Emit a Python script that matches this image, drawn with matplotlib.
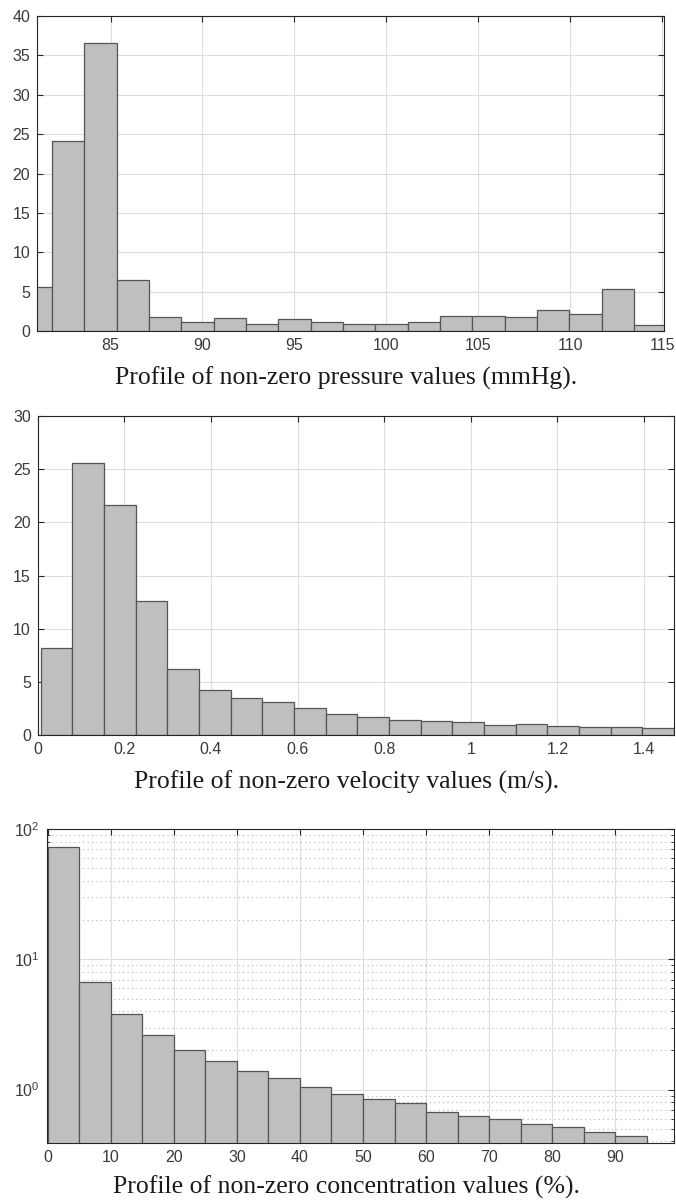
import matplotlib
matplotlib.use("Agg")
import matplotlib.pyplot as plt
import numpy as np
from matplotlib.ticker import LogLocator, NullFormatter

plt.rcParams['font.family'] = ['Liberation Sans', 'DejaVu Sans']
plt.rcParams['mathtext.fontset'] = 'custom'
plt.rcParams['mathtext.rm'] = 'Liberation Sans'
plt.rcParams['mathtext.it'] = 'Liberation Sans:italic'

# pressure histogram (mmHg), 20 bins
pressure_start = 80.06
pressure_width = 1.758
pressure_counts = [5.6, 24.1, 36.6, 6.5, 1.8, 1.1, 1.65, 0.9, 1.5, 1.1,
                   0.85, 0.85, 1.1, 1.95, 1.85, 1.75, 2.7, 2.1, 5.35, 0.8]
pressure_ticks = [85, 90, 95, 100, 105, 110, 115]

# velocity histogram (m/s), 20 bins
velocity_start = 0.007
velocity_width = 0.0731
velocity_counts = [8.2, 25.6, 21.6, 12.6, 6.25, 4.2, 3.45, 3.13, 2.5, 1.94,
                   1.69, 1.44, 1.32, 1.19, 0.95, 1.0, 0.82, 0.76, 0.72, 0.63]
velocity_ticks = [0, 0.2, 0.4, 0.6, 0.8, 1, 1.2, 1.4]
velocity_labels = ['0', '0.2', '0.4', '0.6', '0.8', '1', '1.2', '1.4']

# concentration histogram (%), 19 bins of 5
conc_start = 0
conc_width = 5
conc_counts = [73.6, 6.7, 3.83, 2.62, 2.01, 1.65, 1.38, 1.22, 1.05, 0.92,
               0.853, 0.79, 0.678, 0.628, 0.592, 0.548, 0.514, 0.473, 0.443]
conc_ticks = [0, 10, 20, 30, 40, 50, 60, 70, 80, 90]

captions = ['Profile of non-zero pressure values (mmHg).',
            'Profile of non-zero velocity values (m/s).',
            'Profile of non-zero concentration values (%).']

W, H = 676, 1202
fig = plt.figure(figsize=(W / 100, H / 100), dpi=100)

BAR = '#bfbfbf'
EDGE = '#555555'
AX = '#262626'


def make_axes(l, r, t, b):
    return fig.add_axes([l / W, 1 - b / H, (r - l) / W, (b - t) / H])


def style(ax):
    for s in ax.spines.values():
        s.set_color(AX)
        s.set_linewidth(0.8)
    ax.tick_params(direction='in', top=True, right=True, length=4,
                   width=0.8, color=AX, labelcolor='#3a3a3a', labelsize=11.5,
                   pad=5)
    ax.tick_params(which='minor', direction='in', right=True, length=2.5,
                   width=0.6, color=AX)
    ax.set_axisbelow(True)
    ax.grid(True, which='major', color='#dedede', linewidth=0.8)


def draw_hist(ax, start, width, counts):
    edges = start + width * np.arange(len(counts))
    ax.bar(edges, counts, width=width, align='edge', color=BAR,
           edgecolor=EDGE, linewidth=0.9)


# panel 1
ax1 = make_axes(37, 664, 16, 331)
style(ax1)
draw_hist(ax1, pressure_start, pressure_width, pressure_counts)
ax1.set_xlim(81, 115.1)
ax1.set_ylim(0, 40)
ax1.set_xticks(pressure_ticks)
ax1.set_yticks(range(0, 41, 5))

# panel 2
ax2 = make_axes(37.7, 674, 416, 735)
style(ax2)
draw_hist(ax2, velocity_start, velocity_width, velocity_counts)
ax2.set_xlim(0, 1.469)
ax2.set_ylim(0, 30)
ax2.set_xticks(velocity_ticks)
ax2.set_xticklabels(velocity_labels)
ax2.set_yticks(range(0, 31, 5))

# panel 3 (log)
ax3 = make_axes(46.7, 674, 829.3, 1143.3)
ax3.set_yscale('log')
style(ax3)
ax3.grid(True, which='minor', axis='y', color='#b5b5b5', linestyle=(0, (1, 3)),
         linewidth=0.8)
draw_hist(ax3, conc_start, conc_width, conc_counts)
ax3.set_xlim(-0.15, 99.3)
ax3.set_ylim(0.387, 100)
ax3.set_xticks(conc_ticks)
ax3.yaxis.set_major_locator(LogLocator(base=10, numticks=5))
ax3.yaxis.set_minor_locator(LogLocator(base=10, subs=np.arange(2, 10), numticks=20))
ax3.yaxis.set_minor_formatter(NullFormatter())

for y, txt in zip([378, 782, 1187], captions):
    fig.text(0.512, 1 - y / H, txt, ha='center', va='center',
             family='Liberation Serif', fontsize=18.5, color='#1a1a1a')

fig.savefig('out.png', dpi=100)
